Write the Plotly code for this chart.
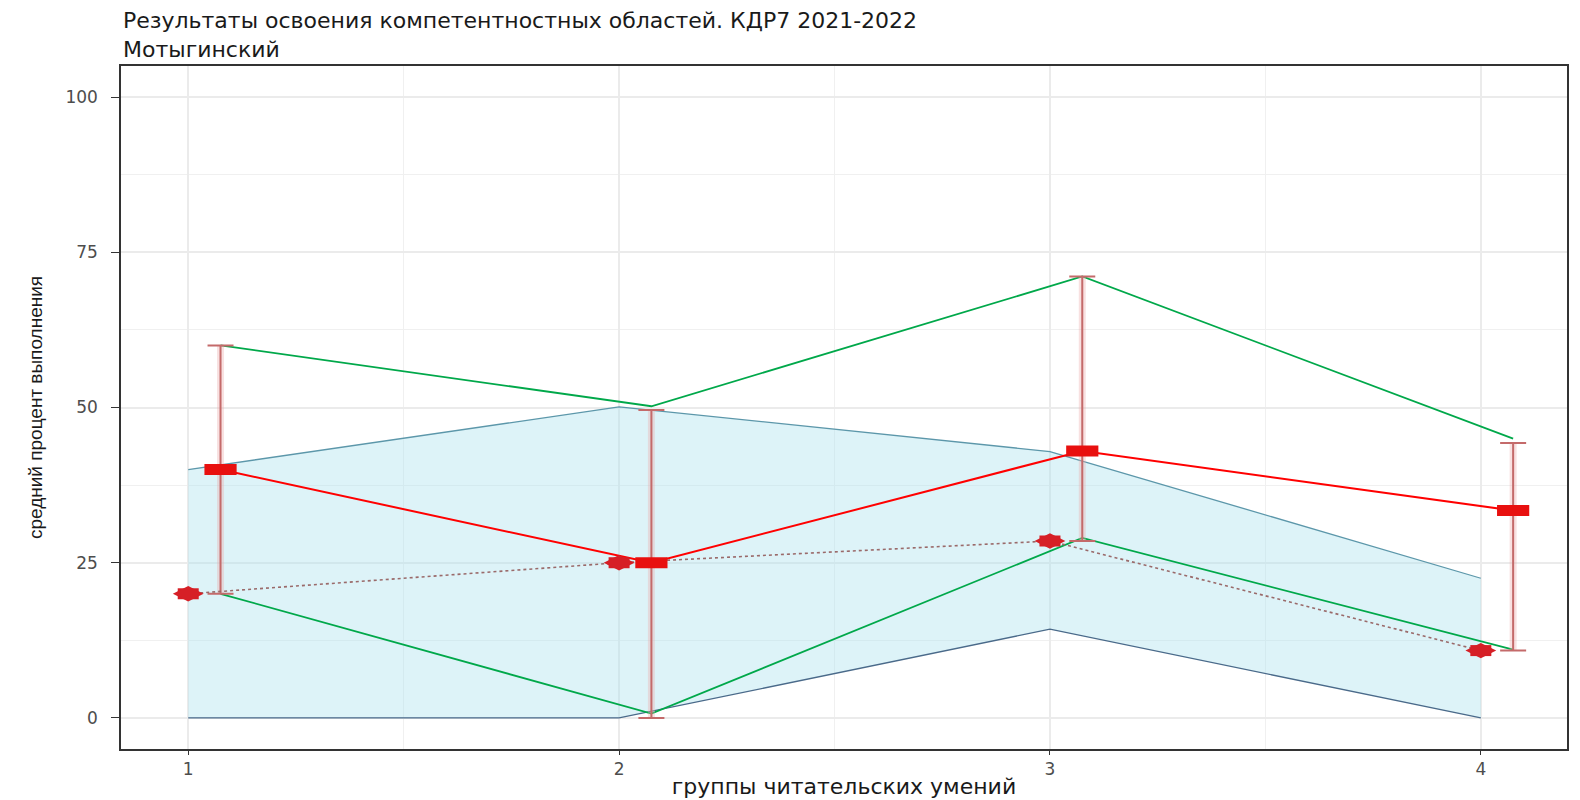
import plotly.graph_objects as go

# ---- data ----
groups = [1, 2, 3, 4]
dodge = 0.075

ribbon_low = [0, 0, 14.3, 0]
ribbon_high = [40, 50.1, 42.9, 22.5]

green_high = [60, 50.2, 71.1, 45.0]
green_low = [20, 0.7, 29.0, 11.0]

mean_val = [40, 25, 43, 33.4]
err_high = [60, 49.6, 71.1, 44.3]
err_low = [20, 0, 28.5, 10.85]

circle_val = [20, 25, 28.5, 10.85]

y_ticks = [0, 25, 50, 75, 100]
x_ticks = [1, 2, 3, 4]

title_text = "Результаты освоения компетентностных областей. КДР7 2021-2022<br>Мотыгинский"
x_title = "группы читательских умений"
y_title = "средний процент выполнения"

# ---- figure ----
xd = [g + dodge for g in groups]
fig = go.Figure()

# ribbon
fig.add_trace(go.Scatter(x=groups, y=ribbon_low, mode="lines",
                         line=dict(color="#4A6A8A", width=1.3), showlegend=False, hoverinfo="skip"))
fig.add_trace(go.Scatter(x=groups, y=ribbon_high, mode="lines", fill="tonexty",
                         fillcolor="rgba(173,226,239,0.42)",
                         line=dict(color="#5C97AA", width=1.3), showlegend=False, hoverinfo="skip"))

# green lines
fig.add_trace(go.Scatter(x=xd, y=green_high, mode="lines",
                         line=dict(color="#00A84A", width=1.8), showlegend=False))
fig.add_trace(go.Scatter(x=xd, y=green_low, mode="lines",
                         line=dict(color="#00A84A", width=1.8), showlegend=False))

# error bars: halo + core
arr_up = [h - m for h, m in zip(err_high, mean_val)]
arr_dn = [m - l for m, l in zip(mean_val, err_low)]
fig.add_trace(go.Scatter(x=xd, y=mean_val, mode="markers", marker=dict(size=1, opacity=0),
                         error_y=dict(type="data", symmetric=False, array=arr_up, arrayminus=arr_dn,
                                      color="rgba(235,170,170,0.35)", thickness=7, width=0),
                         showlegend=False, hoverinfo="skip"))
fig.add_trace(go.Scatter(x=xd, y=mean_val, mode="markers", marker=dict(size=1, opacity=0),
                         error_y=dict(type="data", symmetric=False, array=arr_up, arrayminus=arr_dn,
                                      color="#C46A6A", thickness=2, width=13),
                         showlegend=False, hoverinfo="skip"))

# red line
fig.add_trace(go.Scatter(x=xd, y=mean_val, mode="lines",
                         line=dict(color="#FF0000", width=2), showlegend=False))

# dotted line
fig.add_trace(go.Scatter(x=groups, y=circle_val, mode="lines",
                         line=dict(color="#9A6A6A", width=1.6, dash="dot"), showlegend=False))

# circles (stretched ellipses: body + pointed ends)
fig.add_trace(go.Scatter(x=groups, y=circle_val, mode="markers",
                         marker=dict(symbol="line-ew", size=15,
                                     line=dict(color="#D61F26", width=11)),
                         showlegend=False))
fig.add_trace(go.Scatter(x=groups, y=circle_val, mode="markers",
                         marker=dict(symbol="diamond-wide", size=22, color="#D61F26",
                                     line=dict(width=0)),
                         showlegend=False))

# squares (stretched rectangles)
fig.add_trace(go.Scatter(x=xd, y=mean_val, mode="markers",
                         marker=dict(symbol="line-ew", size=23,
                                     line=dict(color="#E8100F", width=11)),
                         showlegend=False))

axis_common = dict(
    showline=True, mirror=True, linecolor="#333333", linewidth=1.5,
    ticks="outside", tickcolor="#333333", tickwidth=1.2,
    gridcolor="#EBEBEB", gridwidth=1.5, zeroline=False, automargin=False,
    tickfont=dict(family="DejaVu Sans", size=17, color="#4D4D4D"),
)

# the page body has an 8px margin, so the figure sits at (8, 8)
fig.update_layout(
    width=1572, height=792,
    paper_bgcolor="white", plot_bgcolor="white",
    margin=dict(l=113, r=13, t=58, b=51),
    xaxis=dict(range=[0.844, 4.2], tickvals=x_ticks, ticklen=4, ticklabelstandoff=0,
               minor=dict(dtick=0.5, tick0=1, showgrid=True, gridcolor="#F0F0F0", gridwidth=1, ticks=""),
               title=dict(text=x_title, standoff=0,
                          font=dict(family="DejaVu Sans", size=22, color="#1A1A1A")),
               **axis_common),
    yaxis=dict(range=[-5, 105], tickvals=y_ticks, ticklen=8, ticklabelstandoff=10,
               minor=dict(dtick=12.5, tick0=0, showgrid=True, gridcolor="#F0F0F0", gridwidth=1, ticks=""),
               title=dict(text=y_title, standoff=18,
                          font=dict(family="Liberation Sans", size=19, color="#1A1A1A")),
               **axis_common),
    annotations=[
        dict(text=title_text, xref="paper", yref="paper", x=0, y=1 + 60 / 683,
             xanchor="left", yanchor="top", align="left", showarrow=False,
             font=dict(family="DejaVu Sans", size=22, color="#1A1A1A")),
    ],
)

fig.write_html("out.html")
